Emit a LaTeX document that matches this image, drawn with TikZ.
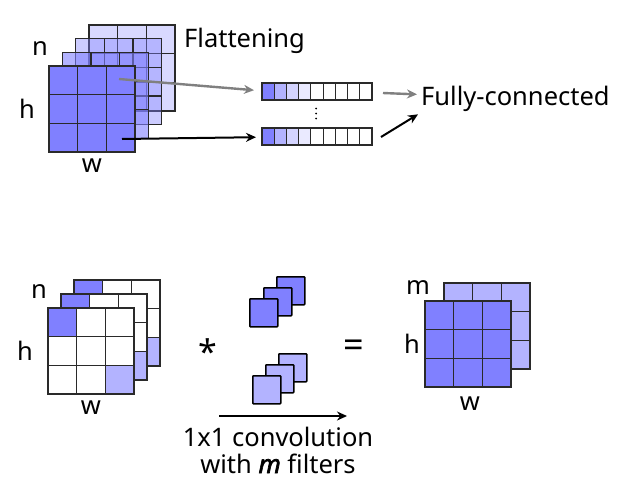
\documentclass[tikz,border=0pt]{standalone}
\usepackage{fontspec}
\setmainfont{Noto Sans}
\usetikzlibrary{arrows.meta}
\definecolor{bdark}{HTML}{8080FF}
\definecolor{blight}{HTML}{B3B3FF}
\definecolor{bl3}{HTML}{D4D4FF}
\definecolor{bl4}{HTML}{EAEAFF}
\definecolor{gline}{HTML}{2A2A2A}
\definecolor{garrow}{HTML}{808080}
\tikzset{
  lbl/.style={font=\fontsize{25.5}{30}\selectfont, inner sep=0pt, anchor=base},
  gridln/.style={draw=gline, line width=1.3pt},
  conn/.style={line width=2pt, -{Stealth[length=10pt,width=9pt]}},
  filt/.style={draw=black, line width=1.5pt, rounded corners=0.8pt, minimum size=28pt, inner sep=0pt, anchor=north west},
}
% 3x3 grid, top-left at (#1,#2), size 86
\newcommand{\mygrid}[2]{%
  \foreach \i in {1,2}{%
    \draw[gridln] ({#1+\i*86/3},#2) -- ({#1+\i*86/3},{#2+86});
    \draw[gridln] (#1,{#2+\i*86/3}) -- ({#1+86},{#2+\i*86/3});
  }
  \draw[gridln] (#1,#2) rectangle ({#1+86},{#2+86});
}
% 3x3 cell fill
\newcommand{\mycell}[5]{% x y col row color
  \fill[#5] ({#1+#3*86/3},{#2+#4*86/3}) rectangle ({#1+(#3+1)*86/3},{#2+(#4+1)*86/3});
}
\begin{document}
\begin{tikzpicture}[x=1pt,y=-1pt]
\useasboundingbox (0,0) rectangle (624,490);

% ---------- top stack ----------
\foreach \k/\op in {3/0.3,2/0.4,1/0.6}{
  \pgfmathsetmacro{\gx}{49+13.3*\k}
  \pgfmathsetmacro{\gy}{66-13.7*\k}
  \fill[bdark, fill opacity=\op] (\gx,\gy) rectangle ({\gx+86},{\gy+86});
  \mygrid{\gx}{\gy}
}
\fill[bdark] (49,66) rectangle (135,152);
\mygrid{49}{66}
\coordinate (s1) at (119,79);
\coordinate (s2) at (122,139);

\node[lbl] (tn) at (40,55) {n};
\node[lbl] (th) at (27,118) {h};
\node[lbl] (tw) at (92,172) {w};
\node[lbl, anchor=base west] (flat) at (184,47) {Flattening};

% vectors
\foreach \nm/\vy in {v1/83, v2/128}{
  \node[minimum width=110pt, minimum height=17pt, inner sep=0pt, anchor=north west] (\nm) at (262,\vy) {};
  \fill[bdark] (262,\vy) rectangle ++(110/9,17);
  \fill[blight] ({262+110/9},\vy) rectangle ++(110/9,17);
  \fill[bl3] ({262+2*110/9},\vy) rectangle ++(110/9,17);
  \fill[bl4] ({262+3*110/9},\vy) rectangle ++(110/9,17);
  \foreach \c in {1,...,8}{
    \draw[gridln, line width=1.2pt] ({262+\c*110/9},\vy) -- ++(0,17);
  }
  \draw[gridln, line width=1.2pt] (262,\vy) rectangle ++(110,17);
}
\foreach \dy in {108.5,113.5,118.5}{
  \fill[black] (316,\dy) circle (1pt);
}

\node[lbl, anchor=base west] (fc) at (421,105) {Fully-connected};

\draw[conn, garrow, line width=2.4pt] (s1) -- ([xshift=-8pt,yshift=1.5pt]v1.west);
\draw[conn] (s2) -- ([xshift=-6pt,yshift=-0.5pt]v2.west);
\coordinate (g1) at (383,93);
\coordinate (g2) at (381,137);
\draw[conn, garrow, line width=2.4pt] (g1) -- ([xshift=-4pt,yshift=4pt]fc.west);
\draw[conn] (g2) -- ([xshift=-3pt,yshift=-3pt]fc.south west);

% ---------- bottom left stack ----------
\foreach \gx/\gy in {74/280, 61/294, 48/308}{
  \fill[white] (\gx,\gy) rectangle ({\gx+86},{\gy+86});
  \mycell{\gx}{\gy}{0}{0}{bdark}
  \mycell{\gx}{\gy}{2}{2}{blight}
  \mygrid{\gx}{\gy}
}
\node[lbl] (bn) at (39,298) {n};
\node[lbl] (bh) at (25,360) {h};
\node[lbl] (bw) at (91,414) {w};

% ---------- filters ----------
\node[filt, fill=bdark] (f13) at (276,276) {};
\node[filt, fill=bdark] (f12) at (263,287) {};
\node[filt, fill=bdark] (f11) at (249,298) {};
\node[filt, fill=blight] (f23) at (278,353) {};
\node[filt, fill=blight] (f22) at (265,364) {};
\node[filt, fill=blight] (f21) at (252,375) {};

\node[font=\fontsize{34}{34}\selectfont\bfseries, inner sep=0pt] (star) at (208,352) {*};
\node[font=\fontsize{36}{36}\selectfont, inner sep=0pt] (eq) at (354,348.5) {=};

\coordinate (a1) at (219,416);
\coordinate (a2) at (347,416);
\draw[conn] (a1) -- (a2);
\node[lbl] (c1) at (278,446) {1x1 convolution};
\node[lbl] (c2) at (278,473) {with {\itshape\addfontfeatures{FakeBold=2.5}m} filters};

% ---------- right stack ----------
\fill[blight] (444,283) rectangle (530,369);
\mygrid{444}{283}
\fill[bdark] (425,301) rectangle (511,387);
\mygrid{425}{301}
\node[lbl] (rm) at (418,294) {m};
\node[lbl] (rh) at (412,353) {h};
\node[lbl] (rw) at (470,410) {w};
\end{tikzpicture}
\end{document}
